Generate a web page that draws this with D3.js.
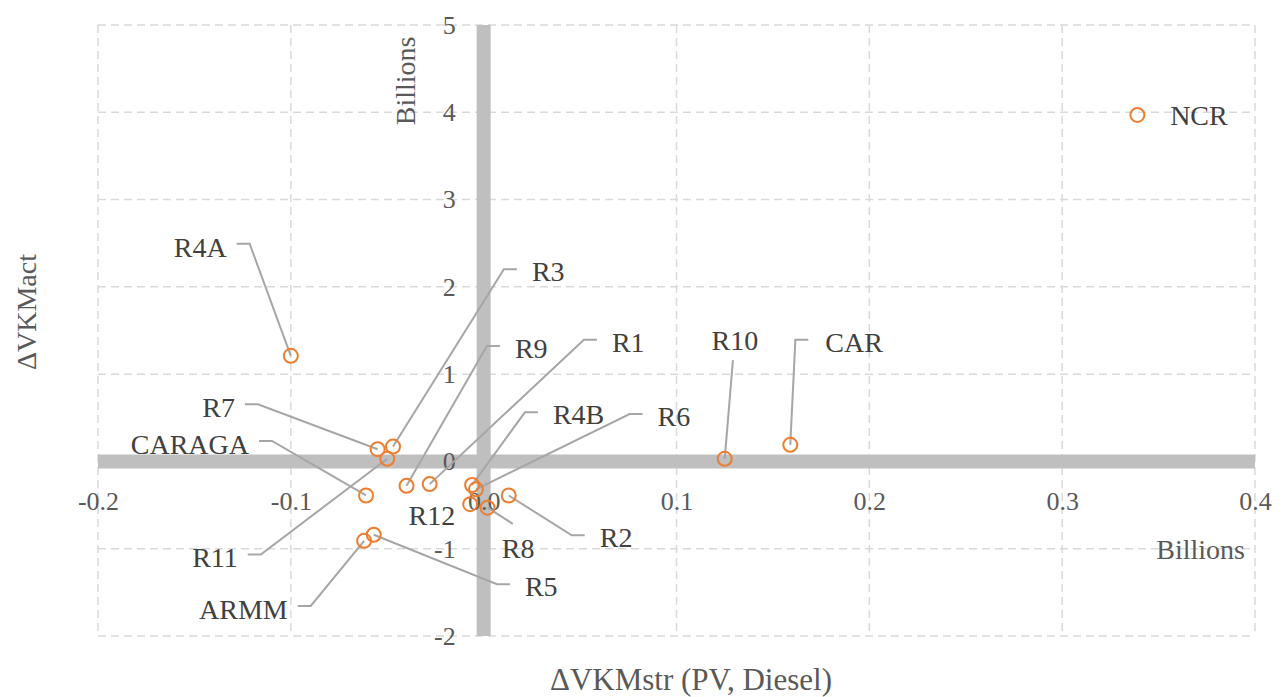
<!DOCTYPE html>
<html>
<head>
<meta charset="utf-8">
<script src="https://cdn.jsdelivr.net/npm/d3@7"></script>
<style>
  html, body { margin: 0; padding: 0; background: #fff; }
  svg { display: block; }
</style>
</head>
<body>
<svg id="chart" width="1282" height="697"></svg>
<script>
// ---- Data (billions) ----
const regions = ["NCR","CAR","R1","R2","R3","R4A","R4B","R5","R6","R7","R8","R9","R10","R11","R12","CARAGA","ARMM"];
const dVKMstr = [0.339, 0.159, -0.028, 0.013, -0.047, -0.100, -0.006, -0.057, -0.004, -0.055, 0.002, -0.040, 0.125, -0.050, -0.007, -0.061, -0.062];
const dVKMact = [3.97, 0.19, -0.26, -0.39, 0.17, 1.21, -0.27, -0.84, -0.32, 0.14, -0.53, -0.28, 0.03, 0.03, -0.49, -0.39, -0.91];

const xTicks = [-0.2, -0.1, 0.0, 0.1, 0.2, 0.3, 0.4];
const xTickLabels = ["-0.2","-0.1","0.0","0.1","0.2","0.3","0.4"];
const yTicks = [-2, -1, 0, 1, 2, 3, 4, 5];
const yTickLabels = ["-2","-1","0","1","2","3","4","5"];

const xTitle = "ΔVKMstr (PV, Diesel)";
const yTitle = "ΔVKMact";
const unitLabel = "Billions";

// ---- Label layout (data units for text anchor; leader type) ----
// [labelX, labelY, anchor, leaderKind]
const labelLayout = {
  "NCR":    [0.356, 3.97, "start", "none"],
  "CAR":    [0.1772, 1.37, "start", "elbowDown"],
  "R1":     [0.0665, 1.37, "start", "elbow"],
  "R2":     [0.0602, -0.87, "start", "elbow"],
  "R3":     [0.0250, 2.18, "start", "elbow"],
  "R4A":    [-0.1333, 2.46, "end", "elbow"],
  "R4B":    [0.0359, 0.54, "start", "elbow"],
  "R5":     [0.0214, -1.43, "start", "elbow"],
  "R6":     [0.0902, 0.52, "start", "elbow"],
  "R7":     [-0.1290, 0.62, "end", "elbow"],
  "R8":     [0.0094, -0.99, "start", "top"],
  "R9":     [0.0162, 1.30, "start", "elbow"],
  "R10":    [0.1303, 1.39, "middle", "below"],
  "R11":    [-0.1275, -1.10, "end", "elbow"],
  "R12":    [-0.0390, -0.62, "start", "none"],
  "CARAGA": [-0.1217, 0.20, "end", "elbow"],
  "ARMM":   [-0.1016, -1.69, "end", "elbow"]
};

// ---- Setup ----
const svg = d3.select("#chart");
const FONT = "'Liberation Serif', 'Times New Roman', serif";
const x = d3.scaleLinear().domain([-0.2, 0.4]).range([98, 1255]);
const y = d3.scaleLinear().domain([-2, 5]).range([636, 25]);

// gridlines
const grid = svg.append("g");
grid.selectAll("line.v").data(xTicks).join("line")
  .attr("x1", d => x(d)).attr("x2", d => x(d))
  .attr("y1", y(5)).attr("y2", y(-2))
  .attr("stroke", "#d9d9d9").attr("stroke-width", 1.5).attr("stroke-dasharray", "8,5");
grid.selectAll("line.h").data(yTicks).join("line")
  .attr("x1", x(-0.2)).attr("x2", x(0.4))
  .attr("y1", d => y(d)).attr("y2", d => y(d))
  .attr("stroke", "#d9d9d9").attr("stroke-width", 1.5).attr("stroke-dasharray", "8,5");

// thick axis bands
svg.append("line")
  .attr("x1", x(-0.2)).attr("x2", x(0.4)).attr("y1", y(0)).attr("y2", y(0))
  .attr("stroke", "#bfbfbf").attr("stroke-width", 14);
svg.append("line")
  .attr("x1", x(0)).attr("x2", x(0)).attr("y1", y(5)).attr("y2", y(-2))
  .attr("stroke", "#bfbfbf").attr("stroke-width", 14);

// axes (labels only)
const xAxis = d3.axisBottom(x).tickValues(xTicks)
  .tickFormat((d, i) => xTickLabels[i]).tickSize(0).tickPadding(30);
const gx = svg.append("g").attr("transform", `translate(0,${y(0)})`).call(xAxis);
const yAxis = d3.axisLeft(y).tickValues(yTicks)
  .tickFormat((d, i) => yTickLabels[i]).tickSize(0).tickPadding(28);
const gy = svg.append("g").attr("transform", `translate(${x(0)},0)`).call(yAxis);
[gx, gy].forEach(g => {
  g.select(".domain").remove();
  g.selectAll("text").attr("font-family", FONT).attr("font-size", 26).attr("fill", "#595959");
});

// unit labels
svg.append("text")
  .attr("transform", `translate(415,${y(4.36)}) rotate(-90)`)
  .attr("text-anchor", "middle")
  .attr("font-family", FONT).attr("font-size", 28).attr("fill", "#595959")
  .text(unitLabel);
svg.append("text")
  .attr("x", 1245).attr("y", y(-1.0) + 10)
  .attr("text-anchor", "end")
  .attr("font-family", FONT).attr("font-size", 28).attr("fill", "#595959")
  .text(unitLabel);

// axis titles
svg.append("text")
  .attr("x", 691).attr("y", 690)
  .attr("text-anchor", "middle")
  .attr("font-family", FONT).attr("font-size", 31).attr("fill", "#595959")
  .text(xTitle);
svg.append("text")
  .attr("transform", `translate(36,312) rotate(-90)`)
  .attr("text-anchor", "middle")
  .attr("font-family", FONT).attr("font-size", 28).attr("fill", "#595959")
  .text(yTitle);

// data
const points = regions.map((r, i) => ({ name: r, vx: dVKMstr[i], vy: dVKMact[i] }));

// leader lines
const leaders = svg.append("g");
points.forEach(p => {
  const [lx, ly, anchor, kind] = labelLayout[p.name];
  const tx = x(lx), ty = y(ly);
  const px = x(p.vx), py = y(p.vy);
  let pts = null;
  if (kind === "elbow" || kind === "elbowDown") {
    if (anchor === "start") {
      const off = kind === "elbowDown" ? 17 : 15;
      pts = [[tx - off, ty - 2], [tx - off - 13, ty - 2], [px, py]];
    } else {
      pts = [[tx + 10, ty - 3], [tx + 23, ty - 3], [px, py]];
    }
  } else if (kind === "top") {
    pts = [[tx + 11, ty - 24], [px, py]];
  } else if (kind === "below") {
    pts = [[tx - 2, ty + 20], [px, py]];
  }
  if (pts) {
    leaders.append("path")
      .attr("d", d3.line()(pts))
      .attr("fill", "none").attr("stroke", "#a6a6a6").attr("stroke-width", 2);
  }
});

// markers
svg.append("g").selectAll("circle").data(points).join("circle")
  .attr("cx", d => x(d.vx)).attr("cy", d => y(d.vy)).attr("r", 7)
  .attr("fill", "none").attr("stroke", "#ed7d31").attr("stroke-width", 2);

// data labels
svg.append("g").selectAll("text").data(points).join("text")
  .attr("x", d => x(labelLayout[d.name][0]))
  .attr("y", d => y(labelLayout[d.name][1]))
  .attr("dy", "0.35em")
  .attr("text-anchor", d => labelLayout[d.name][2])
  .attr("font-family", FONT).attr("font-size", 28).attr("fill", "#404040")
  .text(d => d.name);
</script>
</body>
</html>
